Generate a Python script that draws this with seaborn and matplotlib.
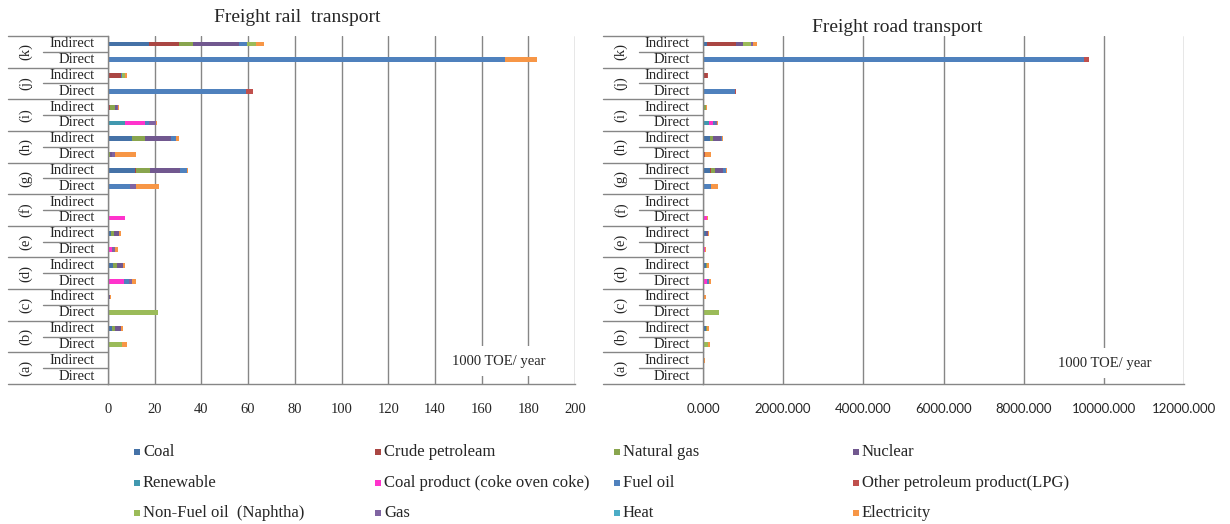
import numpy as np
import pandas as pd
import matplotlib
matplotlib.use("Agg")
import matplotlib.pyplot as plt
import seaborn as sns
from matplotlib.patches import Rectangle

# ---------------- data ----------------
groups = ['(k)', '(j)', '(i)', '(h)', '(g)', '(f)', '(e)', '(d)', '(c)', '(b)', '(a)']
kinds = ['Indirect', 'Direct']
sources = ['Coal', 'Crude petroleam', 'Natural gas', 'Nuclear',
           'Renewable', 'Coal product (coke oven coke)', 'Fuel oil', 'Other petroleum product(LPG)',
           'Non-Fuel oil  (Naphtha)', 'Gas', 'Heat', 'Electricity']
colors = ['#4572A7', '#AA4643', '#89A54E', '#71588F',
          '#4198AF', '#FF33CC', '#4F81BD', '#C0504D',
          '#9BBB59', '#8064A2', '#4BACC6', '#F79646']

# row order: (k) Ind, (k) Dir, (j) Ind, (j) Dir, ... (a) Ind, (a) Dir
#            kI    kD   jI   jD   iI   iD   hI    hD   gI    gD   fI  fD   eI   eD   dI   dD   cI   cD    bI   bD   aI   aD
rail_coal = [17.5, 0,   0.4, 0,   0,   0,   10.1, 0,   11.4, 0,   0,  0,   1.4, 0,   2.1, 0,   0.5, 0,    1.9, 0,   0,   0]
rail_crude = [12.8, 0,  5.0, 0,   0.8, 0,   0,    0,   0.6,  0,   0,  0,   0,   0,   0,   0,   0,   0,    0,   0,   0,   0]
rail_natgas = [6.1, 0,  0,   0,   2.4, 0,   5.6,  0.9, 6.0,  0,   0,  0,   1.1, 0,   1.7, 0,   0,   0,    1.0, 0,   0,   0]
rail_nuclear = [19.6, 0, 0,  0,   0.6, 0,   11.3, 1.0, 13.0, 0,   0,  0,   2.4, 0,   2.7, 0,   0.4, 0,    2.7, 0,   0,   0]
rail_renew = [0,    0,   0,   0,   0,   7.3, 0,    0,   0,    0,   0,  0,   0,   0,   0,   0,   0,   0,    0,   0,   0,   0]
rail_cokeprod = [0,  0,   0,   0,   0,   8.4, 0,    0,   0,    0,   0,  7.3, 0,   1.9, 0,   6.9, 0,   0,    0,   0,   0,   0]
rail_fueloil = [3.6, 170, 0.7, 59, 0,   1.9, 2.3,  0,   2.7,  9.6, 0,  0,   0,   0,   0,   2.1, 0,   0,    0,   0,   0,   0]
rail_lpg = [0,      0,   0,   3.3, 0,   0,   0,    0,   0,    0,   0,  0,   0,   0,   0,   0,   0,   0,    0,   0,   0,   0]
rail_nonfuel = [3.9, 0,  1.1, 0,   0,   0,   0,    0,   0,    0,   0,  0,   0,   0,   0,   0,   0,   21.4, 0,   6.1, 0,   0]
rail_gas = [0,      0,   0,   0,   0.4, 2.9, 0,    1.0, 0,    2.4, 0,  0,   0,   1.1, 0,   1.1, 0,   0,    0,   0,   0,   0]
rail_heat = [0,     0,   0,   0,   0,   0,   0,    0,   0,    0,   0,  0,   0,   0,   0,   0,   0,   0,    0,   0,   0,   0]
rail_elec = [3.4,   13.7, 1.1, 0,  0.7, 0.4, 1.1,  9.0, 0.7,  10.0, 0, 0,   0.6, 1.1, 0.9, 1.7, 0.2, 0,    0.7, 1.9, 0.6, 0]

#             kI   kD    jI  jD   iI  iD   hI   hD   gI   gD   fI  fD  eI  eD  dI  dD   cI  cD   bI  bD   aI  aD
road_coal = [108, 0,    0,  0,   0,  0,   167, 0,   167, 0,   0,  0,  75, 0,  75, 0,   33, 0,   75, 0,   0,  0]
road_crude = [725, 0,   92, 0,   0,  0,   0,   42,  33,  0,   0,  0,  0,  0,  0,  0,   0,  0,   0,  0,   0,  0]
road_natgas = [0,  0,   0,  0,   75, 0,   75,  0,   100, 0,   0,  0,  0,  0,  25, 0,   0,  0,   33, 0,   0,  0]
road_nuclear = [158, 0, 0,  0,   0,  0,   208, 0,   208, 0,   0,  0,  42, 0,  0,  0,   0,  0,   0,  0,   0,  0]
road_renew = [0,   0,   0,  0,   0,  142, 0,   0,   0,   0,   0,  0,  0,  0,  0,  0,   0,  0,   0,  0,   0,  0]
road_cokeprod = [0, 0,  0,  0,   0,  117, 0,   0,   0,   0,   0,  92, 0,  50, 0,  108, 0,  0,   0,  0,   0,  0]
road_fueloil = [0, 9500, 0, 800, 0,  50,  33,  0,   58,  200, 0,  0,  0,  0,  0,  50,  0,  0,   0,  0,   0,  0]
road_lpg = [0,     120, 42, 33,  0,  0,   0,   0,   0,   0,   0,  0,  0,  0,  0,  0,   0,  0,   0,  0,   0,  0]
road_nonfuel = [208, 0, 0,  0,   0,  0,   0,   0,   0,   0,   0,  0,  0,  0,  0,  0,   0,  400, 0,  133, 0,  0]
road_gas = [58,    0,   0,  0,   0,  33,  0,   0,   0,   0,   0,  0,  0,  0,  0,  0,   0,  0,   0,  0,   0,  0]
road_heat = [0,    0,   0,  0,   0,  0,   0,   0,   0,   0,   0,  0,  0,  0,  0,  0,   0,  0,   0,  0,   0,  0]
road_elec = [92,   0,   0,  0,   33, 25,  25,  158, 33,  167, 33, 25, 25, 25, 42, 42,  33, 0,   33, 42,  42, 33]

rail = dict(zip(sources, [rail_coal, rail_crude, rail_natgas, rail_nuclear, rail_renew, rail_cokeprod,
                          rail_fueloil, rail_lpg, rail_nonfuel, rail_gas, rail_heat, rail_elec]))
road = dict(zip(sources, [road_coal, road_crude, road_natgas, road_nuclear, road_renew, road_cokeprod,
                          road_fueloil, road_lpg, road_nonfuel, road_gas, road_heat, road_elec]))

rail_ticks = [0, 20, 40, 60, 80, 100, 120, 140, 160, 180, 200]
road_ticks = [0, 2000, 4000, 6000, 8000, 10000, 12000]

# ---------------- style ----------------
sns.set_style("white")
plt.rcParams['font.family'] = ['Liberation Serif', 'DejaVu Serif']
GREY = '#868686'

W, H = 1230, 524
fig = plt.figure(figsize=(W / 100, H / 100), dpi=100)

rows = [f"{g} {k}" for g in groups for k in kinds]
palette = dict(zip(sources, colors))


def draw(ax, values, ticks, ax_w_px, cat_w_px, outer_w_px, box_x, box_y, sans_ticks):
    recs = []
    cum = np.zeros(len(rows))
    for s in sources:
        cum = cum + np.array(values[s], dtype=float)
        for r, c in zip(rows, cum):
            recs.append(dict(row=r, source=s, cum=c))
    df = pd.DataFrame(recs)
    sns.barplot(data=df, y='row', x='cum', hue='source', hue_order=sources[::-1],
                palette=palette, order=rows, dodge=False, width=0.3, saturation=1,
                linewidth=0, errorbar=None, legend=False, ax=ax)
    ax.set_xlim(ticks[0], ticks[-1])
    ax.set_ylim(len(rows) - 0.5, -0.5)
    ax.set_xticks(ticks)
    ax.set_yticks([])
    ax.set_xlabel('')
    ax.set_ylabel('')
    ax.grid(axis='x', color=GREY, lw=1)
    ax.grid(axis='y', visible=False)
    ax.set_axisbelow(True)
    for sp in ['top', 'right']:
        ax.spines[sp].set_visible(False)
    for sp in ['left', 'bottom']:
        ax.spines[sp].set_color(GREY)
        ax.spines[sp].set_linewidth(1)
    ax.tick_params(axis='x', direction='out', length=6, width=1, color=GREY, pad=8)
    if sans_ticks:
        ax.set_xticklabels([f"{t:.3f}" for t in ticks], fontfamily='Lato', fontsize=9.5)
    else:
        ax.set_xticklabels([str(t) for t in ticks], fontsize=10.5)

    tr = ax.get_yaxis_transform()
    x_out = -cat_w_px / ax_w_px
    x_in = -(cat_w_px - outer_w_px) / ax_w_px
    for k in range(len(groups) + 1):
        y = -0.5 + 2 * k
        ax.plot([x_out, 0], [y, y], transform=tr, color=GREY, lw=1, clip_on=False)
    for k in range(len(groups)):
        y = 0.5 + 2 * k
        ax.plot([x_in, 0], [y, y], transform=tr, color=GREY, lw=1, clip_on=False)
        ax.text(-13 / ax_w_px, 2 * k, 'Indirect', transform=tr, ha='right', va='center', fontsize=10.5)
        ax.text(-13 / ax_w_px, 2 * k + 1, 'Direct', transform=tr, ha='right', va='center', fontsize=10.5)
        ax.text(x_out + (outer_w_px / 2) / ax_w_px, 2 * k + 0.5, groups[k], transform=tr,
                ha='center', va='center', rotation=90, fontsize=10.5)

    ax.text(box_x, box_y, '1000 TOE/ year', transform=ax.get_xaxis_transform(),
            ha='center', va='center', fontsize=10.5,
            bbox=dict(fc='white', ec='none', pad=6), zorder=5)


ax1 = fig.add_axes([108 / W, 140 / H, 467 / W, 348 / H])
ax2 = fig.add_axes([703 / W, 140 / H, 481 / W, 348 / H])

draw(ax1, rail, rail_ticks, 467, 100, 35, 167.5, 0.066, False)
draw(ax2, road, road_ticks, 481, 100, 36, 10012, 0.060, True)

fig.text(297 / W, 1 - 17 / H, 'Freight rail  transport', ha='center', va='center', fontsize=14)
fig.text(897 / W, 1 - 28 / H, 'Freight road transport', ha='center', va='center', fontsize=14)

# legend (row-wise, 4 columns, centred under the figure)
leg_x = [137, 378, 617, 856]
leg_y = [452, 483, 513]
for i, (s, c) in enumerate(zip(sources, colors)):
    x = leg_x[i % 4]
    y = leg_y[i // 4]
    fig.patches.append(Rectangle(((x - 3) / W, 1 - (y + 3) / H), 6 / W, 6 / H,
                                 transform=fig.transFigure, fc=c, ec='none'))
    fig.text((x + 6) / W, 1 - y / H, s, ha='left', va='center', fontsize=12)

fig.savefig('out.png', dpi=100)
